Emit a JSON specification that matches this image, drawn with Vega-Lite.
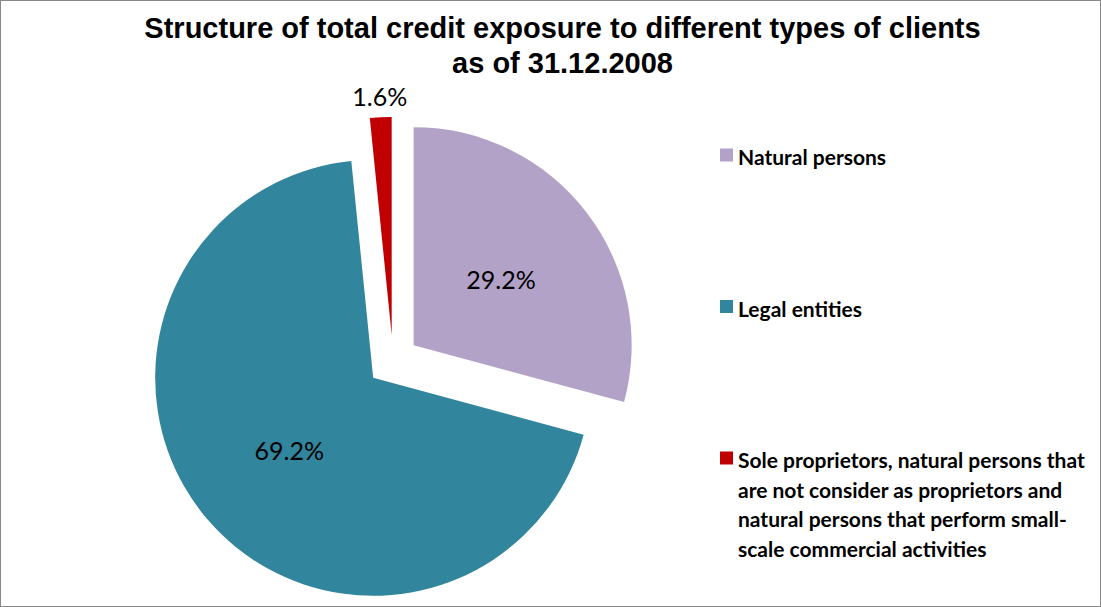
{
  "$schema": "https://vega.github.io/schema/vega-lite/v6.json",
  "width": 1101,
  "height": 607,
  "autosize": {"type": "none"},
  "padding": 0,
  "background": "white",
  "view": {"stroke": "#888888", "strokeWidth": 2},
  "config": {"style": {"guide-label": {"lineHeight": 29.5, "dy": -7}}},
  "title": {
    "text": ["Structure of total credit exposure to different  types of clients", "as of 31.12.2008"],
    "font": "Liberation Sans",
    "fontSize": 29,
    "fontWeight": "bold",
    "color": "black",
    "anchor": "middle",
    "frame": "group",
    "offset": -79,
    "dx": 12,
    "lineHeight": 35
  },
  "data": {
    "values": [
      {"idx": 1, "client": "Natural persons", "value": 0.292},
      {"idx": 2, "client": "Legal entities", "value": 0.692},
      {"idx": 3, "client": "Sole proprietors, natural persons that are not consider as proprietors and natural persons that perform small-scale commercial activities", "value": 0.016}
    ]
  },
  "transform": [
    {"window": [{"op": "sum", "field": "value", "as": "cum"}], "sort": [{"field": "idx"}], "frame": [null, 0]},
    {"calculate": "datum.cum - datum.value / 2", "as": "mid"},
    {"calculate": "sin(2 * PI * datum.mid)", "as": "ex"},
    {"calculate": "cos(2 * PI * datum.mid)", "as": "ey"}
  ],
  "encoding": {
    "x": {"field": "ex", "type": "quantitative", "scale": {"domain": [-15.115, 27.23], "zero": false, "nice": false}, "axis": null},
    "y": {"field": "ey", "type": "quantitative", "scale": {"domain": [-9.46, 13.88], "zero": false, "nice": false}, "axis": null}
  },
  "layer": [
    {
      "mark": {"type": "arc", "radius": 218, "stroke": null},
      "encoding": {
        "theta": {"field": "value", "type": "quantitative", "stack": true, "scale": {"domain": [0, 1]}},
        "order": {"field": "idx", "type": "quantitative"},
        "color": {
          "field": "client",
          "type": "nominal",
          "scale": {
            "domain": ["Natural persons", "Legal entities", "Sole proprietors, natural persons that are not consider as proprietors and natural persons that perform small-scale commercial activities"],
            "range": ["#B3A2C7", "#31859C", "#C00000"]
          },
          "legend": {
            "title": null,
            "orient": "none",
            "legendX": 716,
            "legendY": 144.5,
            "padding": 0,
            "symbolType": "square",
            "symbolSize": 169,
            "symbolStrokeWidth": 0,
            "labelFont": "Lato",
            "labelFontSize": 21,
            "labelFontWeight": "bold",
            "labelColor": "black",
            "labelOffset": 1,
            "labelLimit": 0,
            "labelBaseline": "top",
            "rowPadding": 126.5,
            "labelExpr": "datum.label == 'Natural persons' || datum.label == 'Legal entities' ? datum.label : ['Sole proprietors, natural persons that', 'are not consider as proprietors and', 'natural persons that perform small-', 'scale commercial activities']"
          }
        }
      }
    },
    {
      "transform": [{"filter": "datum.value >= 0.05"}],
      "mark": {"type": "text", "radius": 110, "font": "Lato", "fontSize": 25, "color": "black", "baseline": "middle", "align": "center", "dy": 3},
      "encoding": {
        "theta": {"field": "mid", "type": "quantitative", "stack": null, "scale": {"domain": [0, 1]}},
        "text": {"field": "value", "type": "quantitative", "format": ".1%"}
      }
    },
    {
      "transform": [{"filter": "datum.value < 0.05"}],
      "mark": {"type": "text", "radius": 237, "font": "Lato", "fontSize": 25, "color": "black", "baseline": "middle", "align": "center"},
      "encoding": {
        "theta": {"field": "mid", "type": "quantitative", "stack": null, "scale": {"domain": [0, 1]}},
        "text": {"field": "value", "type": "quantitative", "format": ".1%"}
      }
    }
  ]
}
